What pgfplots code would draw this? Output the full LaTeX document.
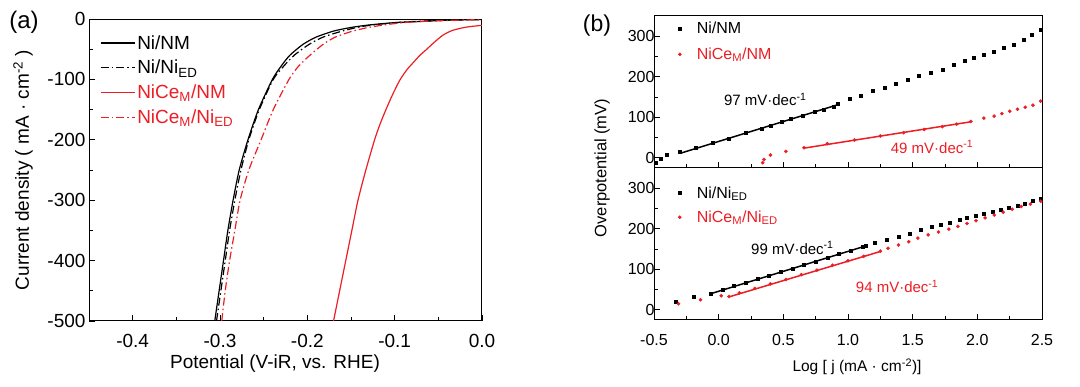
\documentclass[border=0pt]{standalone}
\usepackage{pgfplots}
\pgfplotsset{compat=1.18}
\usepackage{fontspec}
\setmainfont{Liberation Sans}
\definecolor{myred}{RGB}{236,30,36}
\newcommand{\fa}{\fontsize{19}{21}\selectfont}
\newcommand{\fb}{\fontsize{16}{18}\selectfont}
\newcommand{\fc}{\fontsize{15}{17}\selectfont}
\begin{document}
\begin{tikzpicture}
\useasboundingbox (0pt,0pt) rectangle (1080pt,-387pt);
\pgfplotsset{
  base/.style={scale only axis, tick align=inside, xtick pos=bottom, ytick pos=left,
    axis line style={line width=1pt}, every tick/.style={black,line width=0.9pt},
    major tick length=6pt, minor tick length=3.5pt},
  dd/.style={dash pattern=on 8pt off 3pt on 1.5pt off 3pt},
  mleg/.style={legend image code/.code={\path[draw=none,fill=none] (0pt,0pt) -- (24pt,0pt); \draw[##1] plot coordinates {(9pt,0pt)};}},
}
% ---------------- panel (a)
\begin{axis}[base, at={(89pt,-321pt)}, anchor=south west, width=393pt, height=302pt,
  xmin=-0.45, xmax=0, ymin=-500, ymax=0,
  xtick={-0.4,-0.3,-0.2,-0.1,0}, xticklabels={-0.4,-0.3,-0.2,-0.1,0.0},
  minor xtick={-0.45,-0.35,-0.25,-0.15,-0.05},
  ytick={-500,-400,-300,-200,-100,0}, yticklabels={-500,-400,-300,-200,-100,0},
  minor ytick={-450,-350,-250,-150,-50},
  ticklabel style={font=\fa},
  xticklabel style={yshift=-10pt},
  legend style={draw=none, fill=none, at={(0.02,0.96)}, anchor=north west, font=\fa, row sep=5.5pt},
  legend cell align=left,
  legend image code/.code={\draw[#1] (0pt,0pt) -- (34pt,0pt);},
]
\addplot[black, line width=1.2pt, smooth, tension=0.4] coordinates {
(-0.306,-500) (-0.301,-450) (-0.296,-400) (-0.291,-350) (-0.285,-300) (-0.278,-250)
(-0.268,-200) (-0.256,-150) (-0.240,-100) (-0.230,-78) (-0.220,-60) (-0.205,-42)
(-0.190,-30) (-0.170,-20) (-0.150,-14) (-0.130,-10) (-0.100,-6) (-0.070,-4) (-0.040,-2) (0,-1)};
\addlegendentry{Ni/NM}
\addplot[black, line width=1.2pt, dd, smooth, tension=0.4] coordinates {
(-0.304,-500) (-0.299,-450) (-0.294,-400) (-0.289,-350) (-0.283,-300) (-0.276,-250)
(-0.267,-200) (-0.255,-150) (-0.239,-100) (-0.227,-78) (-0.215,-60) (-0.198,-42)
(-0.182,-30) (-0.160,-20) (-0.140,-13) (-0.120,-9) (-0.090,-5) (-0.060,-3) (-0.030,-1.5) (0,-0.5)};
\addlegendentry{Ni/Ni\textsubscript{ED}}
\addplot[myred, line width=1.2pt, smooth, tension=0.4] coordinates {
(-0.170,-500) (-0.163,-450) (-0.156,-400) (-0.149,-350) (-0.142,-300) (-0.133,-250)
(-0.123,-200) (-0.117,-175) (-0.110,-150) (-0.102,-124) (-0.094,-101) (-0.086,-84)
(-0.078,-71) (-0.071,-60) (-0.064,-51) (-0.055,-39) (-0.045,-27) (-0.035,-19.5)
(-0.025,-15.5) (-0.015,-12.8) (0,-10.5)};
\addlegendentry{\textcolor{myred}{NiCe\textsubscript{M}/NM}}
\addplot[myred, line width=1.2pt, dd, smooth, tension=0.4] coordinates {
(-0.298,-500) (-0.294,-450) (-0.289,-400) (-0.283,-350) (-0.277,-300) (-0.267,-250)
(-0.253,-200) (-0.239,-150) (-0.221,-100) (-0.210,-78) (-0.197,-60) (-0.182,-42)
(-0.168,-30) (-0.148,-20) (-0.130,-14) (-0.113,-10) (-0.090,-6) (-0.060,-3.5) (-0.030,-2) (0,-1)};
\addlegendentry{\textcolor{myred}{NiCe\textsubscript{M}/Ni\textsubscript{ED}}}
\end{axis}
\node[font=\fa] at (275pt,-364pt) {Potential (V-iR, vs. RHE)};
\node[font=\fa, rotate=90] at (23pt,-170pt) {Current density ( mA · cm\textsuperscript{-2} )};
\node[font=\fontsize{24}{26}\selectfont] at (24pt,-22pt) {(a)};
% ---------------- panel (b) top
\begin{axis}[base, mleg, at={(654pt,-168pt)}, anchor=south west, width=388pt, height=152pt,
  xmin=-0.5, xmax=2.5, ymin=-25, ymax=350,
  xtick={-0.5,0,0.5,1,1.5,2,2.5}, xticklabels={},
  minor xtick={-0.25,0.25,0.75,1.25,1.75,2.25},
  ytick={0,100,200,300}, yticklabels={0,100,200,300},
  minor ytick={50,150,250},
  ticklabel style={font=\fb},
  yticklabel style={xshift=4pt},
  legend style={draw=none, fill=none, at={(0.035,0.99)}, anchor=north west, font=\fb, row sep=9pt},
  legend cell align=left,
]
\addplot[only marks, mark=square*, mark size=1.5pt, black] coordinates {
(-0.49,-13) (-0.45,-3) (-0.40,7) (-0.30,14) (-0.18,25) (-0.05,37) (0.08,48) (0.21,62)
(0.33,72) (0.40,80) (0.49,88) (0.56,96) (0.65,104) (0.74,114) (0.81,120) (0.89,127) (0.92,134)
(1.01,146) (1.10,154) (1.19,165) (1.28,173) (1.37,184) (1.46,193) (1.55,202) (1.64,210)
(1.73,218) (1.82,229) (1.90,239) (1.97,247) (2.05,255) (2.13,263) (2.20,271) (2.28,280)
(2.36,292) (2.42,304) (2.49,315)};
\addlegendentry{Ni/NM}
\addplot[only marks, mark=*, mark size=1.6pt, myred] coordinates {
(0.34,-12) (0.35,-4) (0.40,7) (0.52,16) (0.66,25) (0.84,35) (1.05,44) (1.25,54) (1.43,62)
(1.59,70) (1.73,77) (1.84,83) (1.95,90) (2.05,98) (2.13,103) (2.19,109) (2.25,115)
(2.31,120) (2.37,125) (2.43,130) (2.49,140)};
\addlegendentry{\textcolor{myred}{NiCe\textsubscript{M}/NM}}
\addplot[black, line width=1.5pt, forget plot] coordinates {(-0.30,11) (0.93,132)};
\addplot[myred, line width=1.5pt, forget plot] coordinates {(0.66,24) (1.95,89)};
\node[font=\fc] at (axis cs:0.36,145) {97 mV·dec\textsuperscript{-1}};
\node[font=\fc, text=myred] at (axis cs:1.65,27) {49 mV·dec\textsuperscript{-1}};
\end{axis}
% ---------------- panel (b) bottom
\begin{axis}[base, mleg, at={(654pt,-320pt)}, anchor=south west, width=388pt, height=152pt,
  xmin=-0.5, xmax=2.5, ymin=-25, ymax=350,
  xtick={-0.5,0,0.5,1,1.5,2,2.5}, xticklabels={-0.5,0.0,0.5,1.0,1.5,2.0,2.5},
  minor xtick={-0.25,0.25,0.75,1.25,1.75,2.25},
  ytick={0,100,200,300}, yticklabels={0,100,200,300},
  minor ytick={50,150,250},
  ticklabel style={font=\fb},
  yticklabel style={xshift=4pt},
  xticklabel style={yshift=-11pt},
  legend style={draw=none, fill=none, at={(0.035,0.905)}, anchor=north west, font=\fb, row sep=7pt},
  legend cell align=left,
]
\addplot[only marks, mark=square*, mark size=1.5pt, black] coordinates {
(-0.33,20) (-0.19,33) (-0.06,41) (0.03,50) (0.12,59) (0.21,67) (0.30,76) (0.39,85) (0.48,94)
(0.57,102) (0.66,111) (0.75,120) (0.84,129) (0.93,138) (1.02,147) (1.11,155) (1.14,158)
(1.21,166) (1.30,174) (1.39,181) (1.48,189) (1.56,197) (1.65,204) (1.72,210) (1.79,216)
(1.86,222) (1.92,228) (1.99,233) (2.05,238) (2.12,242) (2.18,247) (2.24,251) (2.31,256)
(2.37,263) (2.43,270) (2.49,275)};
\addlegendentry{Ni/Ni\textsubscript{ED}}
\addplot[only marks, mark=*, mark size=1.6pt, myred] coordinates {
(-0.31,15) (-0.14,25) (0.02,35) (0.08,33) (0.16,42) (0.28,53) (0.40,64) (0.52,75) (0.64,87)
(0.76,98) (0.88,110) (1.00,121) (1.12,132) (1.25,145) (1.31,152) (1.39,160) (1.47,168)
(1.54,177) (1.62,185) (1.70,192) (1.78,199) (1.85,206) (1.92,213) (1.99,220) (2.06,227)
(2.13,234) (2.20,241) (2.27,248) (2.34,255) (2.41,261) (2.49,268)};
\addlegendentry{\textcolor{myred}{NiCe\textsubscript{M}/Ni\textsubscript{ED}}}
\addplot[black, line width=1.5pt, forget plot] coordinates {(-0.06,40) (1.14,158)};
\addplot[myred, line width=1.5pt, forget plot] coordinates {(0.08,32) (1.25,144)};
\node[font=\fc] at (axis cs:0.57,153) {99 mV·dec\textsuperscript{-1}};
\node[font=\fc, text=myred] at (axis cs:1.38,57) {94 mV·dec\textsuperscript{-1}};
\end{axis}
\node[font=\fontsize{15.5}{17}\selectfont] at (857pt,-367pt) {Log [ j (mA · cm\textsuperscript{-2})]};
\node[font=\fontsize{16.5}{18}\selectfont, rotate=90] at (602pt,-168pt) {Overpotential (mV)};
\node[font=\fontsize{23}{25}\selectfont] at (597pt,-26pt) {(b)};
\end{tikzpicture}
\end{document}
